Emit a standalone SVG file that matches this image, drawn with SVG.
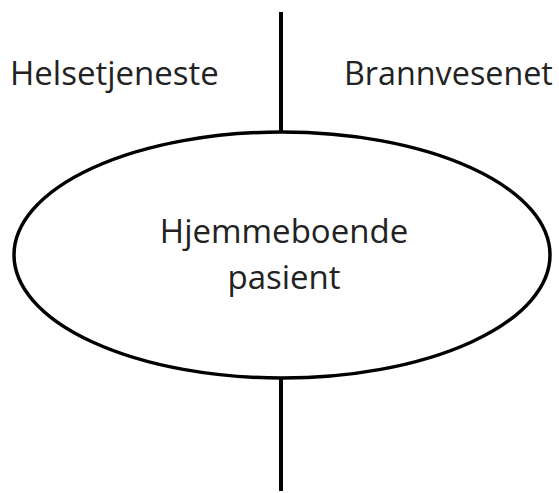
<svg xmlns="http://www.w3.org/2000/svg" width="559" height="493" viewBox="0 0 559 493">
<style>
.t{font-family:"Open Sans","DejaVu Sans",sans-serif;font-size:33px;fill:#222}
.l{stroke:#000;stroke-width:4;fill:none}
</style>
<rect width="559" height="493" fill="#fff"/>
<g id="connectors">
<line class="l" x1="281" y1="12" x2="281" y2="132"/>
<line class="l" x1="281" y1="378" x2="281" y2="491"/>
</g>
<g id="helsetjeneste"><text class="t" x="10" y="85">Helsetjeneste</text></g>
<g id="brannvesenet"><text class="t" x="344" y="85" style="font-size:32.3px">Brannvesenet</text></g>
<g id="pasient">
<ellipse cx="282" cy="255" rx="268" ry="123" fill="#fff" stroke="#000" stroke-width="3.5"/>
<text class="t" x="284" y="243" text-anchor="middle">Hjemmeboende</text>
<text class="t" x="284" y="289" text-anchor="middle">pasient</text>
</g>
</svg>
